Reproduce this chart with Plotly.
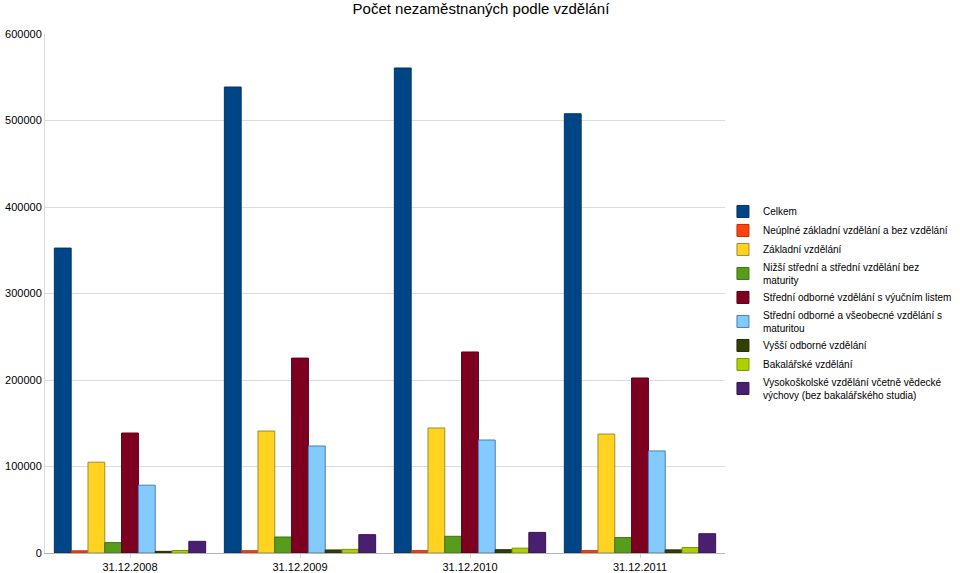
import plotly.graph_objects as go

categories = ["31.12.2008", "31.12.2009", "31.12.2010", "31.12.2011"]

series_names = [
    "Celkem",
    "Neúplné základní vzdělání a bez vzdělání",
    "Základní vzdělání",
    "Nižší střední a střední vzdělání bez<br>maturity",
    "Střední odborné vzdělání s výučním listem",
    "Střední odborné a všeobecné vzdělání s<br>maturitou",
    "Vyšší odborné vzdělání",
    "Bakalářské vzdělání",
    "Vysokoškolské vzdělání včetně vědecké<br>výchovy (bez bakalářského studia)",
]

celkem = [352500, 538700, 560700, 507800]
neuplne = [2500, 2600, 2700, 2700]
zakladni = [105000, 141000, 144500, 137500]
nizsi = [12000, 18500, 19300, 17800]
stredni_vyuc = [138700, 225300, 232400, 202300]
stredni_mat = [78400, 123700, 130600, 118000]
vyssi = [1900, 3500, 3800, 3600]
bakalar = [2900, 4200, 5600, 6300]
vysokoskolske = [13500, 21200, 23800, 22300]

values = [celkem, neuplne, zakladni, nizsi, stredni_vyuc, stredni_mat,
          vyssi, bakalar, vysokoskolske]

colors = ["#004586", "#ff420e", "#ffd320", "#579d1c", "#7e0021",
          "#83caff", "#314004", "#aecf00", "#4b1f6f"]
line_colors = ["#003366", "#b8300a", "#a08a30", "#3f7214", "#5a0018",
               "#4a7fb0", "#222d03", "#7d9400", "#351650"]

fig = go.Figure()
for name, vals, c, lc in zip(series_names, values, colors, line_colors):
    fig.add_trace(go.Bar(
        x=categories, y=vals, name=name,
        marker=dict(color=c, line=dict(color=lc, width=1)),
    ))

font_family = "Liberation Sans, Arial, sans-serif"
fig.update_layout(
    width=960, height=573,
    barmode="group", bargap=0.11, bargroupgap=0,
    paper_bgcolor="white", plot_bgcolor="white",
    margin=dict(l=45, r=235, t=34, b=20, autoexpand=False),
    font=dict(family=font_family, size=11, color="#000000"),
    title=dict(text="Počet nezaměstnaných podle vzdělání", x=0.501, xanchor="center",
               xref="container", y=0.994, yanchor="top", yref="container",
               pad=dict(t=0, b=0), automargin=False,
               font=dict(size=15, family=font_family)),
    showlegend=True,
    legend=dict(x=0.997, xanchor="left", y=0.686, yanchor="top",
                font=dict(size=10, family=font_family),
                itemwidth=30, tracegroupgap=0, bgcolor="rgba(0,0,0,0)"),
    xaxis=dict(showgrid=False, showline=True, linecolor="#b3b3b3",
               ticks="outside", ticklen=4, tickcolor="#d0d0d0",
               tickfont=dict(size=11), automargin=False),
    yaxis=dict(range=[0, 600000], dtick=100000, showgrid=True, gridcolor="#dcdcdc",
               showline=True, linecolor="#dcdcdc", zeroline=False, ticks="",
               tickformat="d", tickfont=dict(size=11), automargin=False),
)

fig.write_html("out.html",
               config={"displayModeBar": False},
               post_script="document.body.style.margin='0px';document.body.style.overflow='hidden';")
